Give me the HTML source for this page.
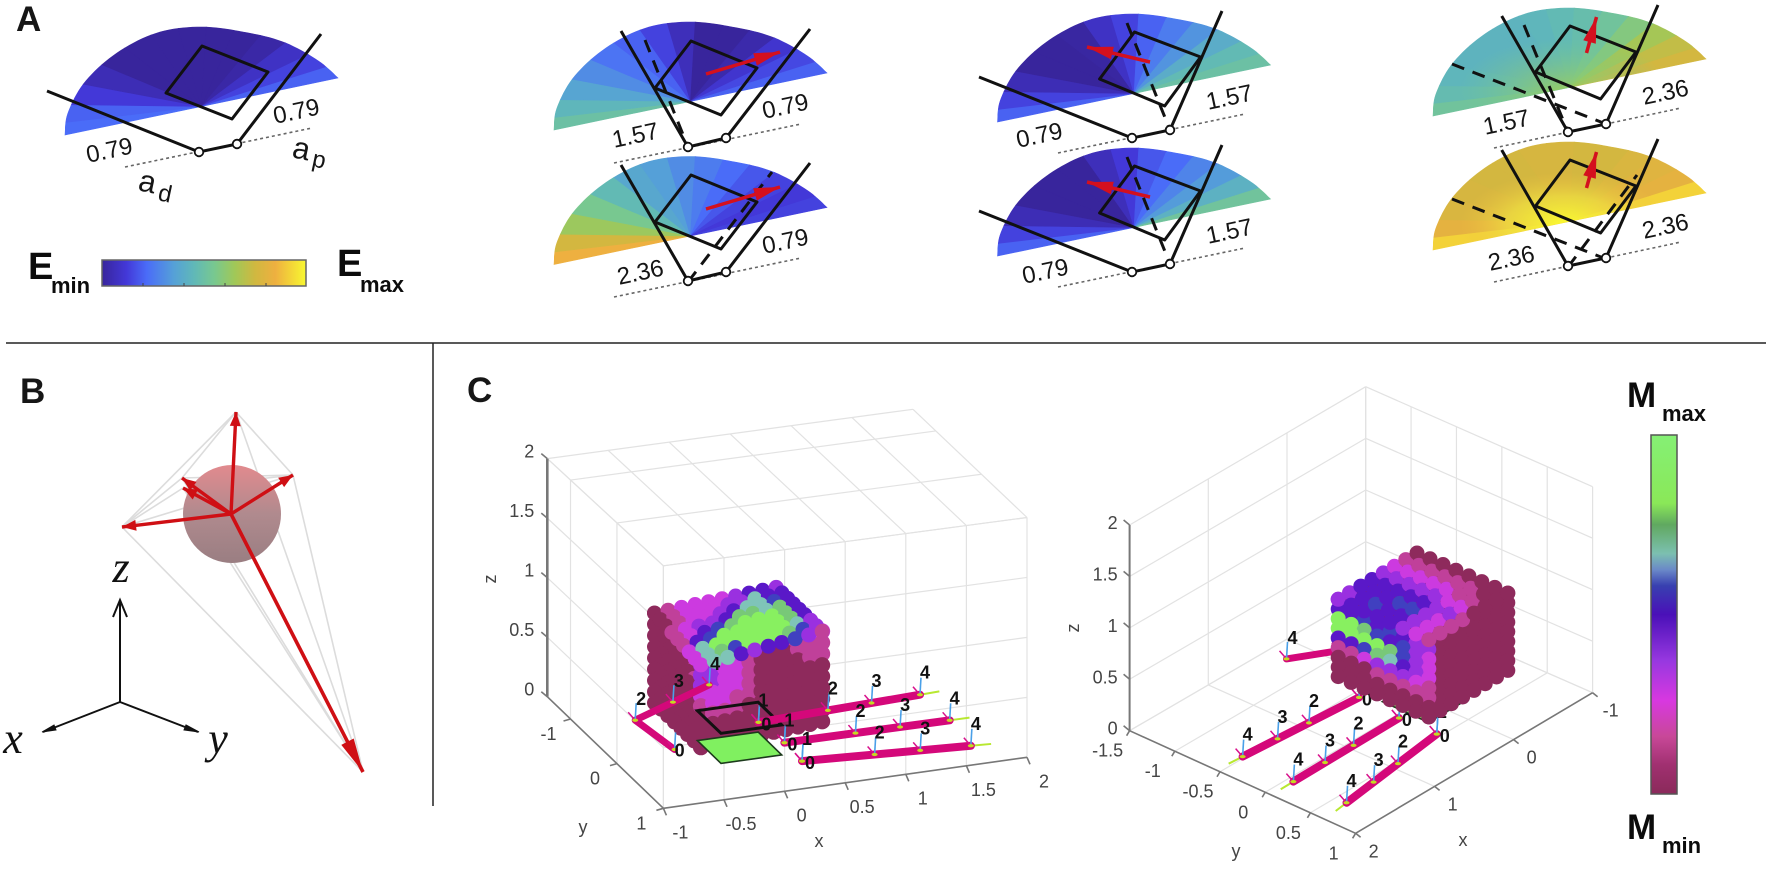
<!DOCTYPE html>
<html lang="en">
<head>
<meta charset="utf-8">
<title>Grasp energy and manipulability figure</title>
<style>
html,body{margin:0;padding:0;background:#fff;width:1772px;height:891px;overflow:hidden}
svg{display:block;font-family:"Liberation Sans",sans-serif}
.panel{font-weight:bold;font-size:35px;fill:#161616}
.val{font-size:24px;fill:#151515}
.cap{font-weight:bold;fill:#0c0c0c}
.ax3{font-family:"Liberation Serif",serif;font-style:italic;font-size:44px;fill:#111}
</style>
</head>
<body>
<svg id="fig" width="1772" height="891" viewBox="0 0 1772 891" xmlns="http://www.w3.org/2000/svg">
  <defs>
    <linearGradient id="eGrad" x1="0" x2="1" y1="0" y2="0">
      <stop offset="0" stop-color="#38259c"/><stop offset=".12" stop-color="#4338d8"/><stop offset=".22" stop-color="#4a6cf8"/>
      <stop offset=".35" stop-color="#55a0d8"/><stop offset=".45" stop-color="#60b8b8"/><stop offset=".55" stop-color="#78c890"/>
      <stop offset=".65" stop-color="#a0c858"/><stop offset=".75" stop-color="#d0b840"/><stop offset=".85" stop-color="#eeb040"/><stop offset="1" stop-color="#f8f830"/>
    </linearGradient>
    <linearGradient id="mGrad" x1="0" x2="0" y1="0" y2="1">
      <stop offset="0" stop-color="#85f075"/><stop offset=".19" stop-color="#8ae858"/><stop offset=".25" stop-color="#60a860"/>
      <stop offset=".33" stop-color="#7cc0b0"/><stop offset=".376" stop-color="#6a88c8"/><stop offset=".42" stop-color="#3840b0"/>
      <stop offset=".5" stop-color="#4a10b8"/><stop offset=".63" stop-color="#9838e0"/><stop offset=".74" stop-color="#d838e0"/>
      <stop offset=".84" stop-color="#c84898"/><stop offset=".92" stop-color="#a03070"/><stop offset="1" stop-color="#8a2a5a"/>
    </linearGradient>
    <linearGradient id="sphereGrad" x1="0" x2="0" y1="0" y2="1">
      <stop offset="0" stop-color="#e28a8e"/><stop offset=".5" stop-color="#b08a8e"/><stop offset="1" stop-color="#9a7e82"/>
    </linearGradient>
    <radialGradient id="glowGreen"><stop offset="0" stop-color="#98cc60" stop-opacity=".95"/><stop offset="1" stop-color="#78c890" stop-opacity="0"/></radialGradient>
    <radialGradient id="glowYellow"><stop offset="0" stop-color="#fbfb30" stop-opacity="1"/><stop offset=".55" stop-color="#f0e040" stop-opacity=".7"/><stop offset="1" stop-color="#eec040" stop-opacity="0"/></radialGradient>
  </defs>

  <line x1="6" y1="343" x2="1766" y2="343" stroke="#222" stroke-width="1.5"/>
  <line x1="433" y1="343" x2="433" y2="806" stroke="#222" stroke-width="1.5"/>

  <text class="panel" x="16" y="31">A</text>
  <text class="panel" x="20" y="403">B</text>
  <text class="panel" x="467" y="402">C</text>

  <g id="fans"></g>

  <g>
    <text class="val" text-anchor="middle" transform="translate(111,158) rotate(-12)">0.79</text>
    <text class="val" text-anchor="middle" transform="translate(298,119) rotate(-12)">0.79</text>
    <text class="val" text-anchor="middle" transform="translate(637,143) rotate(-12)">1.57</text>
    <text class="val" text-anchor="middle" transform="translate(787,114) rotate(-12)">0.79</text>
    <text class="val" text-anchor="middle" transform="translate(642,280) rotate(-12)">2.36</text>
    <text class="val" text-anchor="middle" transform="translate(787,249) rotate(-12)">0.79</text>
    <text class="val" text-anchor="middle" transform="translate(1041,143) rotate(-12)">0.79</text>
    <text class="val" text-anchor="middle" transform="translate(1231,105) rotate(-12)">1.57</text>
    <text class="val" text-anchor="middle" transform="translate(1047,279) rotate(-12)">0.79</text>
    <text class="val" text-anchor="middle" transform="translate(1231,239) rotate(-12)">1.57</text>
    <text class="val" text-anchor="middle" transform="translate(1508,130) rotate(-12)">1.57</text>
    <text class="val" text-anchor="middle" transform="translate(1667,100) rotate(-12)">2.36</text>
    <text class="val" text-anchor="middle" transform="translate(1513,266) rotate(-12)">2.36</text>
    <text class="val" text-anchor="middle" transform="translate(1667,234) rotate(-12)">2.36</text>
  </g>

  <g fill="#151515">
    <text font-size="31" transform="translate(137,190) rotate(12)">a</text>
    <text font-size="24" transform="translate(157,200) rotate(12)">d</text>
    <text font-size="31" transform="translate(291,157) rotate(12)">a</text>
    <text font-size="24" transform="translate(311,166) rotate(12)">p</text>
  </g>

  <rect x="102" y="260" width="204" height="26" fill="url(#eGrad)" stroke="#666" stroke-width="1.5"/>
  <g stroke="#444" stroke-width="1">
    <line x1="143" y1="286" x2="143" y2="283"/><line x1="184" y1="286" x2="184" y2="283"/><line x1="225" y1="286" x2="225" y2="283"/><line x1="266" y1="286" x2="266" y2="283"/>
  </g>
  <text class="cap" x="28" y="279" font-size="38">E</text>
  <text class="cap" x="51" y="293" font-size="22">min</text>
  <text class="cap" x="337" y="276" font-size="38">E</text>
  <text class="cap" x="360" y="292" font-size="22">max</text>

  <g id="panelB">
    <g id="hullLines"></g>
    <circle cx="232" cy="514" r="49" fill="url(#sphereGrad)"/>
    <g id="wrenchArrows"></g>
    <g stroke="#111" stroke-width="2" fill="none">
      <line x1="120" y1="702" x2="120" y2="601"/>
      <path d="M113 617L120 600L127 617"/>
      <line x1="120" y1="702" x2="43" y2="732"/>
      <path d="M54 725L42 732L56 730Z" fill="#111" stroke-width="1"/>
      <line x1="120" y1="702" x2="198" y2="732"/>
      <path d="M186 725L199 732L184 730Z" fill="#111" stroke-width="1"/>
    </g>
    <text class="ax3" text-anchor="middle" x="121" y="582">z</text>
    <text class="ax3" text-anchor="middle" x="13" y="753">x</text>
    <text class="ax3" text-anchor="middle" x="218" y="753">y</text>
  </g>

  <g id="plotLeft"></g>
  <g id="plotRight"></g>

  <rect x="1651" y="435" width="26" height="359" fill="url(#mGrad)" stroke="#555" stroke-width="1.5"/>
  <text class="cap" x="1627" y="407" font-size="35">M</text>
  <text class="cap" x="1662" y="421" font-size="22">max</text>
  <text class="cap" x="1627" y="839" font-size="35">M</text>
  <text class="cap" x="1662" y="853" font-size="22">min</text>
</svg>

<script>
/* ---------- Data: energy values per fan wedge (0..1 on the colorbar) ---------- */
const fanAdOneAp = [.22,.2,.12,.05,0,0,0,0,0,0,.02,.08,.14,.2];
const fanAd2Ap1 = [.5,.44,.37,.3,.24,.2,.14,.06,0,0,.03,.1,.15,.2];
const fanAd3Ap1 = [.85,.76,.64,.55,.46,.38,.35,.3,.26,.22,.18,.14,.12,.14];
const fanAd1Ap2a = [.2,.14,.05,0,0,.01,.08,.14,.2,.26,.32,.4,.46,.5];
const fanAd1Ap2b = [.2,.14,.05,0,0,0,.06,.12,.18,.22,.28,.34,.42,.52];
const fanAd2Ap3 = [.52,.47,.44,.43,.43,.43,.44,.46,.48,.52,.58,.66,.72,.76];
const fanAd3Ap3 = [.92,.82,.78,.77,.76,.76,.77,.77,.76,.76,.78,.8,.82,.92];

/* ---------- Data: 3D axes tick values ---------- */
const xTicksLeft = [-1,-0.5,0,0.5,1,1.5,2];
const yTicksLeft = [-1,0,1];
const zTicks = [0,0.5,1,1.5,2];
const xTicksRight = [-1,0,1,2];
const yTicksRight = [-1.5,-1,-0.5,0,0.5,1];

/* ---------- Data: manipulability level per region (digit = level in mLevels) ---------- */
const mLevels = ['#8e2a5c','#c0409a','#cc3ae0','#9a30e0','#5a18c8','#4040c0','#7fc4b8','#78c878','#88f060'];
const leftTopFace = ["0122223443","0122233644","0122346654","1233477674","1245788874","1458888874","2688888863","2675888753","2664344531"];
const leftSideFace = ["00000111","00000011","00000011","00000000","00000000","00000000","00000000","00000000","00000000"];
const leftFrontFace = ["3322100112","3322100011","3322100001","2222100000","1221100000","0111000000","0000000000","0000000000","0000000000"];
const rightTopFace = ["33443210","44443210","45443210","44543210","44543210","33332110","22232100","11110000"];
const rightSideFace = ["33444533","44545433","88754532","88887532","44576432","11233321","00011111","00000000"];
const rightFrontFace = ["00000000","00000000","00000000","00000000","00000000","00000000","00000000","00000000"];

/* ---------- Data: finger kinematics in axis units ---------- */
const fingerStartX = [0.325,0.36,0.35];
const fingerEndX = [1.69,1.715,1.68];
const fingerStartY = [-0.423,0.048,0.457];
const fingerEndY = [-0.52,0.063,0.62];
const jointLabels = ['0','1','2','3','4'];
const jointFractions = [0,0,0.43,0.7,1];
const thumbX = [-0.48,-0.545,-0.14,0.248];
const thumbY = [-0.12,-0.8,-1.05,-1.29];
const thumbLabels = ['0','2','3','4'];
const plateX = [-0.25,0.25];
const plateY = [-0.23,0.28];
const cubeX = [-0.5,0.5];
const cubeY = [-0.5,0.5];
const cubeZ = [0.25,1];

/* ---------- Data: wrench tips ---------- */
const wrenchTipX = [236,293,182,183,122,363];
const wrenchTipY = [412,475,478,488,527,772];
const hullPairs = [[4,0],[4,1],[4,2],[4,3],[4,5],[3,5],[1,5],[0,5],[2,5],[0,1],[0,2],[2,1],[3,1]];

/* ---------- Helpers ---------- */
const NS = 'http://www.w3.org/2000/svg';
function mk(tag, parent, name, attrs){
  const el = document.createElementNS(NS, tag);
  
  
  for (const k in attrs) el.setAttribute(k, attrs[k]);
  parent.appendChild(el);
  return el;
}
function pts(a){ return a.map(p => p[0].toFixed(1)+','+p[1].toFixed(1)).join(' '); }
function lerp(a,b,t){ return a+(b-a)*t; }
const eStops = [[0,[56,37,156]],[.12,[67,56,216]],[.22,[74,108,248]],[.35,[85,160,216]],[.45,[96,184,184]],[.55,[120,200,144]],[.65,[160,200,88]],[.75,[208,184,64]],[.85,[238,176,64]],[1,[248,248,48]]];
function eColor(v){
  for (let i=1;i<eStops.length;i++){
    if (v<=eStops[i][0]){
      const a=eStops[i-1], b=eStops[i], t=(v-a[0])/(b[0]-a[0]);
      return 'rgb('+a[1].map((c,k)=>Math.round(lerp(c,b[1][k],t))).join(',')+')';
    }
  }
  return 'rgb(248,248,48)';
}
function arrow(parent, name, x0,y0,x1,y1,color,w,hl,hw){
  mk('line', parent, name, {x1:x0,y1:y0,x2:x1,y2:y1,stroke:color,'stroke-width':w});
  const d=Math.hypot(x1-x0,y1-y0), ux=(x1-x0)/d, uy=(y1-y0)/d;
  const bx=x1-ux*hl, by=y1-uy*hl;
  mk('polygon', parent, name+'-head', {points:pts([[x1,y1],[bx-uy*hw,by+ux*hw],[bx+uy*hw,by-ux*hw]]),fill:color});
}

/* ---------- Panel A ---------- */
const arcShape = [[0,0],[3,-22],[20,-53],[52,-82],[92,-102],[135,-108],[178,-103],[218,-93],[252,-75],[273,-57]];
function arcAt(t){
  const m=arcShape.length-1, f=t*m, i=Math.min(Math.floor(f),m-1), r=f-i;
  const p0=arcShape[Math.max(i-1,0)], p1=arcShape[i], p2=arcShape[i+1], p3=arcShape[Math.min(i+2,m)];
  const cr=k=>0.5*((2*p1[k])+(-p0[k]+p2[k])*r+(2*p0[k]-5*p1[k]+4*p2[k]-p3[k])*r*r+(-p0[k]+3*p1[k]-3*p2[k]+p3[k])*r*r*r);
  return [cr(0),cr(1)];
}
const fanSpecs = [
 {o:[65,135],v:fanAdOneAp,sq:[[202,46],[268,72],[232,119],[166,93]],arm:[[47,91],[199,152],[237,144],[321,34]],dot:[[125,167],[312,128]],dash:[]},
 {o:[554,130],v:fanAd2Ap1,sq:[[691,41],[757,68],[721,115],[655,88]],arm:[[621,31],[688,147],[726,138],[810,29]],dot:[[614,163],[801,124]],dash:[[[645,40],[688,147]]],arr:[[706,74],[780,52]]},
 {o:[554,264.5],v:fanAd3Ap1,sq:[[691,175],[757,202],[721,249],[655,222]],arm:[[621,165],[688,281],[726,272],[810,163]],dot:[[614,297],[801,258]],dash:[[[688,282],[772,172]]],arr:[[706,209],[780,187]]},
 {o:[997.5,122],v:fanAd1Ap2a,sq:[[1134.5,32],[1200.6,57],[1164.7,106],[1099.6,79]],arm:[[979,77],[1132,138],[1170,130],[1222,11]],dot:[[1058,153],[1245,114]],dash:[[[1127,23],[1170,130]]],arr:[[1150,62],[1087,47]]},
 {o:[997.5,256],v:fanAd1Ap2b,sq:[[1134.5,166],[1200.6,191],[1164.7,240],[1099.6,213]],arm:[[979,211],[1132,272],[1170,264],[1222,145]],dot:[[1058,287],[1245,248]],dash:[[[1127,157],[1170,264]]],arr:[[1150,197],[1087,182]]},
 {o:[1433,116],v:fanAd2Ap3,glow:'glowGreen',sq:[[1570,26],[1636,52],[1600.6,99],[1535.5,72]],arm:[[1501.7,16],[1568,132],[1606,124],[1658,5]],dot:[[1494,148],[1681,108]],dash:[[[1524,25],[1568,132]],[[1452,64],[1606,124]]],arr:[[1586.5,53],[1596.5,17]]},
 {o:[1433,250],v:fanAd3Ap3,glow:'glowYellow',sq:[[1570,160],[1636,186],[1600.6,233],[1535.5,206]],arm:[[1501.7,150],[1568,266],[1606,258],[1658,139]],dot:[[1494,282],[1681,242]],dash:[[[1568,267],[1637,175]],[[1452,199],[1606,259]]],arr:[[1586.5,188],[1596.5,152]]}
];
const fansG = document.getElementById('fans');
fanSpecs.forEach((f,idx)=>{
  const g = mk('g', fansG, 'energy-fan', {});
  const n=f.v.length, cx=f.o[0]+136.5, cy=f.o[1]-28.5;
  f.v.forEach((val,k)=>{
    const poly=[[cx,cy]];
    for(let s=0;s<=6;s++){ const a=arcAt((k+s/6)/n); poly.push([f.o[0]+a[0],f.o[1]+a[1]]); }
    mk('polygon', g, 'fan-wedge', {points:pts(poly),fill:eColor(val),stroke:eColor(val),'stroke-width':.6});
  });
  if (f.glow){
    const outline=[]; for(let s=0;s<=60;s++){ const a=arcAt(s/60); outline.push([f.o[0]+a[0],f.o[1]+a[1]]); }
    const cp=mk('clipPath', g, 'fan-clip', {id:'clip'+idx});
    mk('polygon', cp, 'fan-clip-shape', {points:pts(outline)});
    mk('ellipse', g, 'fan-glow', {cx:cx-5,cy:cy+3,rx:105,ry:52,fill:'url(#'+f.glow+')','clip-path':'url(#clip'+idx+')'});
  }
  mk('line', g, 'dotted-base-line', {x1:f.dot[0][0],y1:f.dot[0][1],x2:f.dot[1][0],y2:f.dot[1][1],stroke:'#666','stroke-width':1.6,'stroke-dasharray':'3 3'});
  f.dash.forEach(d=>{
    mk('line', g, 'previous-finger-pose', {x1:d[0][0],y1:d[0][1],x2:d[1][0],y2:d[1][1],stroke:'#111','stroke-width':3,'stroke-dasharray':'13 9'});
  });
  mk('polygon', g, 'grasped-square', {points:pts(f.sq),fill:'none',stroke:'#111','stroke-width':3,'stroke-linejoin':'round'});
  mk('polyline', g, 'finger-links', {points:pts(f.arm),fill:'none',stroke:'#111','stroke-width':3});
  if (f.arr) arrow(g,'force-arrow',f.arr[0][0],f.arr[0][1],f.arr[1][0],f.arr[1][1],'#d4101e',3.5,26,6.5);
  mk('circle', g, 'joint-left', {cx:f.arm[1][0],cy:f.arm[1][1],r:4.3,fill:'#fff',stroke:'#111','stroke-width':1.8});
  mk('circle', g, 'joint-right', {cx:f.arm[2][0],cy:f.arm[2][1],r:4.3,fill:'#fff',stroke:'#111','stroke-width':1.8});
});

/* ---------- Panel B ---------- */
const hullG=document.getElementById('hullLines');
hullPairs.forEach(p=>{
  mk('line', hullG, 'hull-edge', {x1:wrenchTipX[p[0]],y1:wrenchTipY[p[0]],x2:wrenchTipX[p[1]],y2:wrenchTipY[p[1]],stroke:'#dcdcdc','stroke-width':1.6});
});
const arrG=document.getElementById('wrenchArrows');
wrenchTipX.forEach((x,i)=>{
  const big=i===5;
  arrow(arrG,'wrench-arrow',231,514,x,wrenchTipY[i],'#cf0f14',big?3.6:3.4,big?34:14,big?7:5.5);
});

/* ---------- Panel C ---------- */
function projector(cfg){
  return function(x,y,z){
    const u=(x-cfg.xr[0])/(cfg.xr[1]-cfg.xr[0]), v=(y-cfg.yr[0])/(cfg.yr[1]-cfg.yr[0]), w=(z-cfg.zr[0])/(cfg.zr[1]-cfg.zr[0]);
    const c=cfg.c;
    function bil(k,i){ return lerp(lerp(c[k][0][i],c[k][1][i],u),lerp(c[k][2][i],c[k][3][i],u),v); }
    return [lerp(bil(0,0),bil(1,0),w),lerp(bil(0,1),bil(1,1),w)];
  };
}
function tx(parent,name,x,y,s,size,extra){
  const el=mk('text',parent,name,Object.assign({x:x,y:y,'font-size':size,fill:'#444','text-anchor':'middle'},extra||{}));
  el.textContent=s;
  return el;
}
function wall(g,P,cfg,axis,val){
  const s={stroke:'#e2e2e2','stroke-width':1.2};
  function L(a,b){ mk('line',g,'grid-line',Object.assign({x1:a[0],y1:a[1],x2:b[0],y2:b[1]},s)); }
  if(axis==='x'){
    cfg.yGrid.forEach(y=>L(P(val,y,0),P(val,y,2)));
    cfg.zGrid.forEach(z=>L(P(val,cfg.yr[0],z),P(val,cfg.yr[1],z)));
  } else if(axis==='y'){
    cfg.xGrid.forEach(x=>L(P(x,val,0),P(x,val,2)));
    cfg.zGrid.forEach(z=>L(P(cfg.xr[0],val,z),P(cfg.xr[1],val,z)));
  } else {
    cfg.xGrid.forEach(x=>L(P(x,cfg.yr[0],val),P(x,cfg.yr[1],val)));
    cfg.yGrid.forEach(y=>L(P(cfg.xr[0],y,val),P(cfg.xr[1],y,val)));
  }
}
function faceBacking(g,P,fn){
  mk('polygon',g,'cube-face-backing',{points:pts([[0,0],[1,0],[1,1],[0,1]].map(c=>{const p=fn(c[0],c[1]);return P(p[0],p[1],p[2]);})),fill:mLevels[0]});
}
function faceDots(g,P,rows,fn,r,nu,nv){
  faceBacking(g,P,fn);
  const nr=rows.length, nc=rows[0].length;
  for(let j=0;j<nv;j++){
    const b=j/(nv-1), row=rows[Math.min(nr-1,Math.floor(b*nr))];
    for(let i=0;i<nu;i++){
      const a=i/(nu-1);
      const p=fn(a,b);
      const q=P(p[0],p[1],p[2]);
      mk('circle',g,'cube-contact-dot',{cx:q[0].toFixed(1),cy:q[1].toFixed(1),r:r,fill:mLevels[+row[Math.min(nc-1,Math.floor(a*nc))]]});
    }
  }
}
function drawJoint(g,j,label,labelDx,labelDy){
  mk('line',g,'joint-marker',{x1:j[0]-7,y1:j[1]-8,x2:j[0],y2:j[1],stroke:'#d8108c','stroke-width':1.5});
  mk('line',g,'joint-axis',{x1:j[0],y1:j[1],x2:j[0]+1,y2:j[1]-17,stroke:'#4aa0e8','stroke-width':1.6});
  mk('ellipse',g,'joint-dot',{cx:j[0],cy:j[1],rx:3,ry:1.6,fill:'#c8d820'});
  const t=mk('text',g,'joint-number',{x:j[0]+labelDx,y:j[1]+labelDy+5,'font-size':18,'font-weight':'bold',fill:'#111','text-anchor':'middle'});
  t.textContent=label;
}
function drawFingers(g,P){
  fingerStartX.forEach((x0,i)=>{
    const a=P(x0,fingerStartY[i],0), b=P(fingerEndX[i],fingerEndY[i],0);
    const tip=[lerp(a[0],b[0],1.12),lerp(a[1],b[1],1.12)];
    mk('line',g,'finger-tip-axis',{x1:b[0],y1:b[1],x2:tip[0],y2:tip[1],stroke:'#b8e830','stroke-width':2});
    mk('line',g,'finger-link',{x1:a[0],y1:a[1],x2:b[0],y2:b[1],stroke:'#d4087a','stroke-width':8,'stroke-linecap':'round'});
    jointLabels.forEach((lab,k)=>{
      const f=jointFractions[k];
      const j=[lerp(a[0],b[0],f),lerp(a[1],b[1],f)];
      if(k===0) drawJoint(g,j,lab,8,3); else drawJoint(g,j,lab,5,-21);
    });
  });
}
function drawThumb(g,P){
  const p=thumbX.map((x,i)=>P(x,thumbY[i],0));
  mk('polyline',g,'thumb-links',{points:pts(p),fill:'none',stroke:'#d4087a','stroke-width':7,'stroke-linecap':'round','stroke-linejoin':'round'});
  p.forEach((q,k)=>{
    if(k===0) drawJoint(g,q,thumbLabels[k],5,2); else drawJoint(g,q,thumbLabels[k],6,-20);
  });
}
function plate(g,P,z,name,fill,stroke,w){
  mk('polygon',g,name,{points:pts([P(plateX[0],plateY[0],z),P(plateX[1],plateY[0],z),P(plateX[1],plateY[1],z),P(plateX[0],plateY[1],z)]),fill:fill,stroke:stroke,'stroke-width':w});
}
function drawAxes(g,P,cfg){
  const s={stroke:'#777','stroke-width':1.6};
  function L(name,a,b,w){ mk('line',g,name,Object.assign({x1:a[0],y1:a[1],x2:b[0],y2:b[1]},s,w?{'stroke-width':w}:{})); }
  L('z-axis-line',P(cfg.zAt[0],cfg.zAt[1],0),P(cfg.zAt[0],cfg.zAt[1],2),cfg.zW);
  L('y-axis-line',P(cfg.yAt,cfg.yr[0],0),P(cfg.yAt,cfg.yr[1],0));
  L('x-axis-line',P(cfg.xr[0],1,0),P(cfg.xr[1],1,0));
  zTicks.forEach(z=>{
    const p=P(cfg.zAt[0],cfg.zAt[1],z);
    L('z-tick',p,[p[0]-6,p[1]-5]);
    tx(g,'z-tick-label',p[0]+cfg.zOff[0],p[1]+cfg.zOff[1]+6,String(z),18,{'text-anchor':'end'});
  });
  cfg.yTicks.forEach(y=>{
    const p=P(cfg.yAt,y,0);
    L('y-tick',p,[p[0]+cfg.yTick[0],p[1]+cfg.yTick[1]]);
    tx(g,'y-tick-label',p[0]+cfg.yOff[0],p[1]+cfg.yOff[1]+6,String(y),18);
  });
  cfg.xTicks.forEach(x=>{
    const p=P(x,1,0);
    L('x-tick',p,[p[0]+cfg.xTick[0],p[1]+cfg.xTick[1]]);
    tx(g,'x-tick-label',p[0]+cfg.xOff[0],p[1]+cfg.xOff[1]+6,String(x),18);
  });
  const zl=cfg.zLabel, yl=cfg.yLabel, xl=cfg.xLabel;
  tx(g,'z-axis-title',0,0,'z',18,{transform:'translate('+zl[0]+','+zl[1]+') rotate(-90)',dy:5});
  tx(g,'y-axis-title',yl[0],yl[1]+6,'y',18);
  tx(g,'x-axis-title',xl[0],xl[1]+6,'x',18);
}

/* Left view */
const leftCfg={xr:[-1,2],yr:[-1.5,1],zr:[0,2],
  c:[[[547.3,696.7],[913,645.7],[663.4,808.3],[1027,757.3]],[[547.3,458.6],[913,409.3],[663.4,565.8],[1027,517.5]]],
  xGrid:xTicksLeft,yGrid:[-1.5,-1,0,1],zGrid:zTicks,xTicks:xTicksLeft,yTicks:yTicksLeft,
  zAt:[-1,-1.5],yAt:-1,zW:2.6,zOff:[-13,-7],yOff:[-22,15],xOff:[17,24],yTick:[-7,2],xTick:[3,7],
  zLabel:[491,579],yLabel:[583,827],xLabel:[819,841]};
const gL=document.getElementById('plotLeft');
const PL=projector(leftCfg);
wall(gL,PL,leftCfg,'x',-1); wall(gL,PL,leftCfg,'y',1); wall(gL,PL,leftCfg,'z',2);
drawAxes(gL,PL,leftCfg);
const cubeL=mk('g',gL,'contact-cube',{});
function PLc(x,y,z){
  const q=PL(x,y,z);
  q[1]+= -9*(x+.5) + 8*(y+.5)*(.5-x)*(z-.25)/.75;
  return q;
}
faceDots(cubeL,PLc,leftSideFace,(a,b)=>[cubeX[0],lerp(cubeY[0],cubeY[1],a),lerp(cubeZ[1],cubeZ[0],b)],7.5,8,9);
faceDots(cubeL,PLc,leftFrontFace,(a,b)=>[lerp(cubeX[0],cubeX[1],a),cubeY[1],lerp(cubeZ[1],cubeZ[0],b)],8,11,9);
faceDots(cubeL,PLc,leftTopFace,(a,b)=>[lerp(cubeX[0],cubeX[1],a),lerp(cubeY[0],cubeY[1],b),cubeZ[1]],7.5,10,9);
plate(gL,PL,0,'contact-plate','#80f060','#1c3a1c',1.6);
plate(gL,PL,0.25,'object-outline','none','#111',3);
const armsL=mk('g',gL,'fingers',{});
drawThumb(armsL,PL); drawFingers(armsL,PL);

/* Right view */
const rightCfg={xr:[-1,2],yr:[-1.5,1],zr:[0,2],
  c:[[[1365.7,593.3],[1129.6,730.7],[1592.6,692.7],[1355.6,833.3]],[[1365.7,386.7],[1129.6,525],[1592.6,486.7],[1355.6,627]]],
  xGrid:xTicksRight,yGrid:yTicksRight,zGrid:zTicks,xTicks:xTicksRight,yTicks:yTicksRight,
  zAt:[2,-1.5],yAt:2,zW:2,zOff:[-12,-2],yOff:[-22,20],xOff:[18,18],yTick:[-3,5],xTick:[5,4],
  zLabel:[1074,628],yLabel:[1236,851],xLabel:[1463,840]};
const gR=document.getElementById('plotRight');
const PR=projector(rightCfg);
wall(gR,PR,rightCfg,'x',-1); wall(gR,PR,rightCfg,'y',-1.5); wall(gR,PR,rightCfg,'z',0);
drawAxes(gR,PR,rightCfg);
plate(gR,PR,0,'contact-plate','#80f060','#1c3a1c',1.6);
const armsR=mk('g',gR,'fingers',{});
drawThumb(armsR,PR); drawFingers(armsR,PR);
const cubeR=mk('g',gR,'contact-cube',{});
faceDots(cubeR,PR,rightFrontFace,(a,b)=>[lerp(cubeX[1],cubeX[0],a),cubeY[1],lerp(cubeZ[1],cubeZ[0],b)],7.5,8,9);
faceDots(cubeR,PR,rightSideFace,(a,b)=>[cubeX[1],lerp(cubeY[0],cubeY[1],a),lerp(cubeZ[1],cubeZ[0],b)],7.5,8,9);
faceDots(cubeR,PR,rightTopFace,(a,b)=>[lerp(cubeX[1],cubeX[0],a),lerp(cubeY[0],cubeY[1],b),cubeZ[1]],7.5,8,8);
</script>
</body>
</html>
